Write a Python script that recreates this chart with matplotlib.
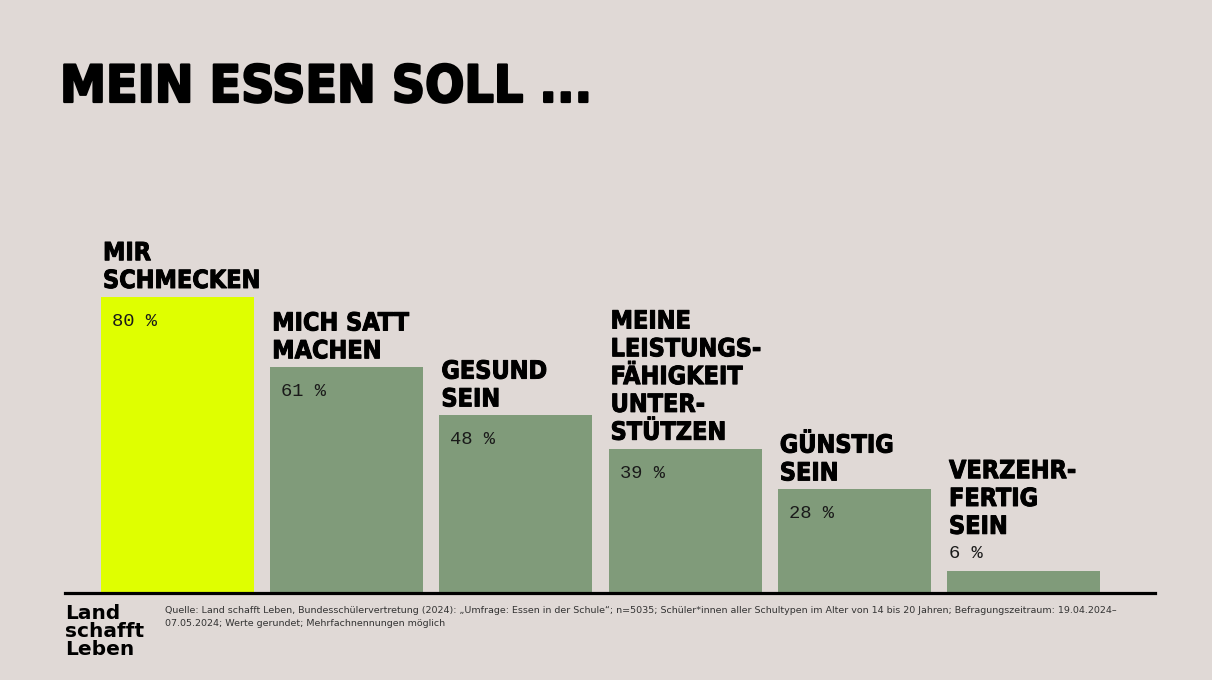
import matplotlib.pyplot as plt
import matplotlib.patheffects as pe

# data
labels = ["MIR\nSCHMECKEN", "MICH SATT\nMACHEN", "GESUND\nSEIN",
          "MEINE\nLEISTUNGS-\nFÄHIGKEIT\nUNTER-\nSTÜTZEN", "GÜNSTIG\nSEIN",
          "VERZEHR-\nFERTIG\nSEIN"]
values = [80, 61, 48, 39, 28, 6]
colors = ["#dfff00", "#809b7a", "#809b7a", "#809b7a", "#809b7a", "#809b7a"]

title = "MEIN ESSEN SOLL ..."
source = ("Quelle: Land schafft Leben, Bundesschülervertretung (2024): „Umfrage: Essen in der Schule“; n=5035; "
          "Schüler*innen aller Schultypen im Alter von 14 bis 20 Jahren; Befragungszeitraum: 19.04.2024–\n"
          "07.05.2024; Werte gerundet; Mehrfachnennungen möglich")
logo = "Land\nschafft\nLeben"

bg = "#e0d9d6"
head_font = ["DejaVu Sans"]
mono_font = ["Liberation Mono", "DejaVu Sans Mono"]

fig = plt.figure(figsize=(12.12, 6.8), dpi=100, facecolor=bg)
W, H = 1212, 680

# axes placed in pixel coords: baseline at y=593, x from 65 to 1155
ax = fig.add_axes([65 / W, (H - 593) / H, (1155 - 65) / W, 370 / H])
ax.set_facecolor(bg)

pitch = 169.2
width = 153 / pitch
x = list(range(len(values)))
bars = ax.bar(x, values, width=width, color=colors, align="center")
ax.set_xlim((65 - 177.5) / pitch, (1155 - 177.5) / pitch)
ax.set_ylim(0, 100)

for s in ["top", "right", "left"]:
    ax.spines[s].set_visible(False)
ax.spines["bottom"].set_linewidth(2.3)
ax.spines["bottom"].set_color("black")
ax.set_xticks([])
ax.set_yticks([])

thick = [pe.withStroke(linewidth=0.7, foreground="black")]

for b, lab, v in zip(bars, labels, values):
    left = b.get_x()
    pct = f"{v} %"
    if v >= 10:
        ax.annotate(pct, (left, v), xytext=(11, -16), textcoords="offset pixels",
                    ha="left", va="top", fontsize=13.5, family=mono_font, color="#1a1a1a")
        lab_off = 4
    else:
        ax.annotate(pct, (left, v), xytext=(2, 9), textcoords="offset pixels",
                    ha="left", va="bottom", fontsize=13.5, family=mono_font, color="#1a1a1a")
        lab_off = 32
    ax.annotate(lab, (left, v), xytext=(2, lab_off), textcoords="offset pixels",
                ha="left", va="bottom", fontsize=18, fontweight="heavy", fontstretch="condensed",
                family=head_font, linespacing=1.2, color="black", path_effects=thick)

fig.text(60 / W, 1 - 102 / H, title, ha="left", va="baseline", fontsize=37,
         fontweight="heavy", fontstretch="condensed", family=head_font, color="black",
         path_effects=[pe.withStroke(linewidth=1.6, foreground="black")])

fig.text(165 / W, 1 - 606 / H, source, ha="left", va="top", fontsize=6.8,
         color="#333333", linespacing=1.55)

fig.text(65 / W, 1 - 604 / H, logo, ha="left", va="top", fontsize=14.5,
         fontweight="bold", color="black", linespacing=0.92)

fig.savefig("out.png", dpi=100, facecolor=bg)
